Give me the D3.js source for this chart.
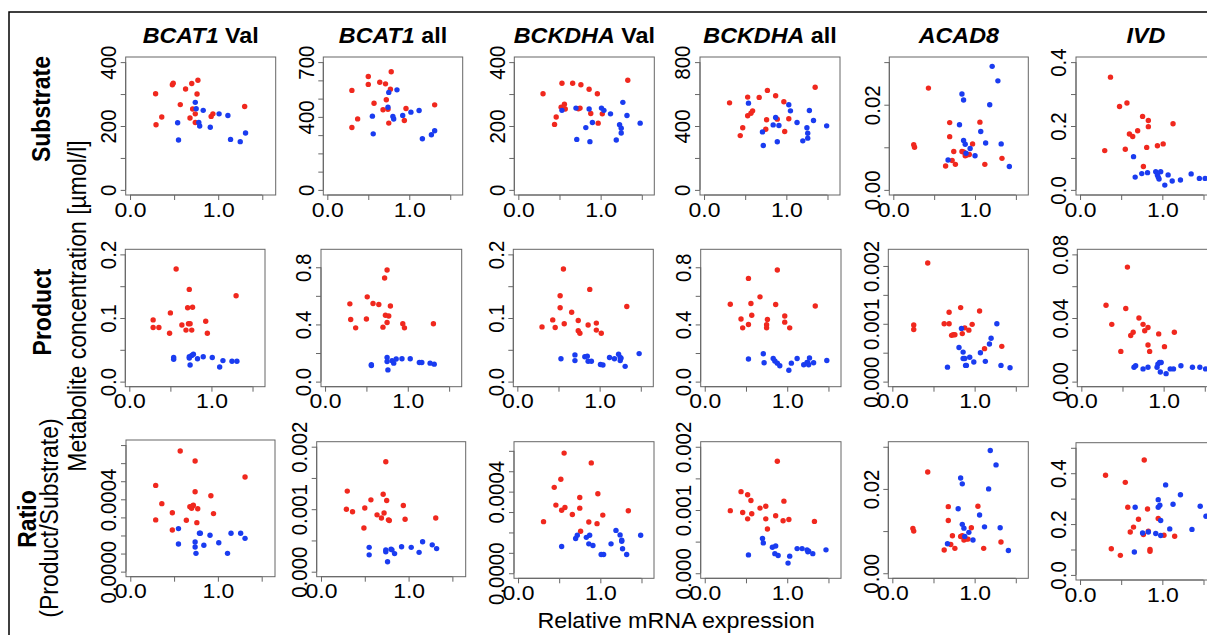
<!DOCTYPE html>
<html>
<head>
<meta charset="utf-8">
<script src="https://cdn.jsdelivr.net/npm/d3@7"></script>
<style>
  body { margin: 0; background: #fff; }
  svg { display: block; font-family: "Liberation Sans", Arial, Helvetica, sans-serif; }
</style>
</head>
<body>
<div class="container"></div>
<script>
const width = 1207;
const height = 635;

// column titles and row labels
const genes = ['BCAT1', 'BCAT1', 'BCKDHA', 'BCKDHA', 'ACAD8', 'IVD'];
const geneSuffix = [' Val', ' all', ' Val', ' all', '', ''];
const rowNames = ['Substrate', 'Product', 'Ratio'];

// x axis (relative mRNA expression)
const xTicks = [0, 0.5, 1, 1.5];
const xLabels = [0, 1];

// y axes, one entry per column
const substrateYMax = [400, 700, 400, 800, 0.03, 0.4];
const substrateYTicks = [[0, 100, 200, 300, 400], [0, 100, 200, 300, 400, 500, 600, 700], [0, 100, 200, 300, 400], [0, 200, 400, 600, 800], [0, 0.01, 0.02, 0.03], [0, 0.1, 0.2, 0.3, 0.4]];
const substrateYLabels = [[0, 200, 400], [0, 400, 700], [0, 200, 400], [0, 400, 800], [0, 0.02], [0, 0.2, 0.4]];
const substrateDigits = [0, 0, 0, 0, 2, 1];

const productYMax = [0.2, 0.89, 0.2, 0.89, 0.0022, 0.08];
const productYTicks = [[0, 0.05, 0.1, 0.15, 0.2], [0, 0.2, 0.4, 0.6, 0.8], [0, 0.05, 0.1, 0.15, 0.2], [0, 0.2, 0.4, 0.6, 0.8], [0, 0.0005, 0.001, 0.0015, 0.002], [0, 0.02, 0.04, 0.06, 0.08]];
const productYLabels = [[0, 0.1, 0.2], [0, 0.4, 0.8], [0, 0.1, 0.2], [0, 0.4, 0.8], [0, 0.001, 0.002], [0, 0.04, 0.08]];
const productDigits = [1, 1, 1, 1, 3, 2];

const ratioYMax = [0.0007, 0.002, 0.00062, 0.002, 0.03, 0.5];
const ratioYTicks = [[0, 0.0001, 0.0002, 0.0003, 0.0004, 0.0005, 0.0006, 0.0007], [0, 0.0005, 0.001, 0.0015, 0.002], [0, 0.0001, 0.0002, 0.0003, 0.0004, 0.0005, 0.0006], [0, 0.0005, 0.001, 0.0015, 0.002], [0, 0.01, 0.02, 0.03], [0, 0.1, 0.2, 0.3, 0.4, 0.5]];
const ratioYLabels = [[0, 0.0004], [0, 0.001, 0.002], [0, 0.0004], [0, 0.001, 0.002], [0, 0.02], [0, 0.2, 0.4]];
const ratioDigits = [4, 3, 4, 3, 2, 1];

// points [expression, concentration]
const bcat1ValSubRed = [[0.29,301],[0.295,204],[0.36,228],[0.48,329],[0.49,334],[0.57,267],[0.63,316],[0.70,333],[0.77,343],[0.76,300],[0.71,253],[0.74,238],[0.74,211],[0.68,225],[0.92,230],[0.94,238],[1.30,261]];
const bcat1ValSubBlue = [[0.74,274],[0.75,254],[0.83,249],[0.78,211],[0.79,200],[0.54,210],[0.55,156],[0.91,196],[1.01,238],[1.11,233],[1.14,158],[1.25,151],[1.31,178]];
const bcat1AllSubRed = [[0.30,545],[0.30,342],[0.37,389],[0.50,621],[0.50,578],[0.57,475],[0.64,590],[0.71,581],[0.78,647],[0.77,552],[0.72,494],[0.74,442],[0.75,366],[0.68,439],[0.94,380],[0.96,446],[1.31,466]];
const bcat1AllSubBlue = [[0.55,404],[0.56,307],[0.75,534],[0.74,453],[0.80,402],[0.81,388],[0.85,548],[0.92,408],[1.02,426],[1.12,435],[1.16,280],[1.27,302],[1.31,324]];
const bckdhaValSubRed = [[0.30,301],[0.44,205],[0.46,228],[0.52,259],[0.53,334],[0.56,268],[0.57,253],[0.66,334],[0.75,256],[0.73,254],[0.76,329],[0.86,315],[0.88,239],[0.96,301],[0.97,209],[1.02,238],[1.33,343]];
const bckdhaValSubBlue = [[0.53,249],[0.70,256],[0.71,158],[0.82,195],[0.86,253],[0.87,151],[0.90,211],[1.01,256],[1.04,249],[1.12,238],[1.19,156],[1.23,204],[1.25,193],[1.25,178],[1.27,274],[1.32,233],[1.48,209]];
const bckdhaAllSubRed = [[0.31,545],[0.44,340],[0.47,389],[0.53,581],[0.53,464],[0.57,480],[0.59,495],[0.67,579],[0.76,439],[0.75,380],[0.77,623],[0.87,589],[0.89,443],[0.97,552],[0.98,366],[1.03,445],[1.35,643]];
const bckdhaAllSubBlue = [[0.54,543],[0.71,363],[0.72,278],[0.84,407],[0.87,453],[0.89,301],[0.91,403],[1.03,533],[1.05,495],[1.13,422],[1.20,307],[1.25,389],[1.26,355],[1.26,324],[1.28,497],[1.33,434],[1.49,401]];
const acad8SubRed = [[0.25,0.0106],[0.26,0.0100],[0.43,0.0239],[0.64,0.0056],[0.69,0.0158],[0.69,0.0125],[0.72,0.0069],[0.74,0.0090],[0.76,0.0060],[0.84,0.0090],[0.86,0.0089],[0.88,0.0080],[0.90,0.0082],[0.93,0.0083],[0.97,0.0108],[1.06,0.0159],[1.12,0.0060],[1.33,0.0074]];
const acad8SubBlue = [[0.67,0.0070],[0.81,0.0153],[0.84,0.0225],[0.86,0.0211],[0.86,0.0116],[0.88,0.0107],[0.89,0.0086],[0.94,0.0097],[1.00,0.0080],[1.07,0.0137],[1.13,0.0110],[1.18,0.0200],[1.21,0.0290],[1.28,0.0256],[1.32,0.0108],[1.42,0.0055]];
const ivdSubRed = [[0.30,0.123],[0.37,0.353],[0.48,0.261],[0.55,0.127],[0.57,0.272],[0.60,0.175],[0.64,0.167],[0.70,0.185],[0.76,0.230],[0.77,0.073],[0.81,0.133],[0.83,0.217],[0.83,0.198],[0.94,0.138],[1.01,0.144],[1.13,0.207]];
const ivdSubBlue = [[0.65,0.104],[0.67,0.040],[0.75,0.051],[0.82,0.054],[0.92,0.057],[0.94,0.047],[0.95,0.040],[0.96,0.034],[0.98,0.057],[1.03,0.015],[1.07,0.047],[1.12,0.028],[1.22,0.031],[1.35,0.050],[1.45,0.036],[1.52,0.036]];

const bcat1ValProdRed = [[0.29,0.097],[0.29,0.085],[0.36,0.085],[0.49,0.076],[0.50,0.108],[0.57,0.177],[0.64,0.089],[0.69,0.081],[0.71,0.116],[0.72,0.091],[0.73,0.145],[0.74,0.091],[0.76,0.081],[0.77,0.117],[0.93,0.095],[0.95,0.076],[1.30,0.135]];
const bcat1ValProdBlue = [[0.54,0.035],[0.54,0.038],[0.73,0.039],[0.74,0.026],[0.76,0.041],[0.78,0.043],[0.83,0.036],[0.90,0.039],[1.01,0.038],[1.10,0.023],[1.14,0.033],[1.25,0.032],[1.31,0.032],[0.73,0.037]];
const bcat1AllProdRed = [[0.30,0.544],[0.31,0.435],[0.37,0.376],[0.50,0.438],[0.51,0.593],[0.58,0.546],[0.65,0.539],[0.70,0.381],[0.72,0.725],[0.73,0.464],[0.75,0.781],[0.75,0.414],[0.77,0.459],[0.79,0.529],[0.94,0.405],[0.96,0.376],[1.31,0.405]];
const bcat1AllProdBlue = [[0.56,0.113],[0.56,0.118],[0.75,0.169],[0.75,0.141],[0.76,0.082],[0.81,0.146],[0.86,0.158],[0.93,0.160],[1.03,0.160],[1.14,0.134],[1.17,0.134],[1.27,0.129],[1.32,0.122],[0.83,0.129]];
const bckdhaValProdRed = [[0.30,0.086],[0.43,0.097],[0.46,0.085],[0.52,0.135],[0.52,0.116],[0.56,0.177],[0.57,0.091],[0.66,0.109],[0.74,0.096],[0.74,0.080],[0.76,0.076],[0.86,0.089],[0.88,0.145],[0.96,0.092],[0.96,0.081],[1.02,0.076],[1.33,0.118]];
const bckdhaValProdBlue = [[0.53,0.036],[0.70,0.042],[0.70,0.033],[0.82,0.039],[0.85,0.040],[0.86,0.032],[0.90,0.032],[1.01,0.027],[1.04,0.026],[1.12,0.038],[1.18,0.036],[1.23,0.043],[1.25,0.033],[1.26,0.037],[1.31,0.024],[1.48,0.044],[1.25,0.038]];
const bckdhaAllProdRed = [[0.31,0.541],[0.44,0.438],[0.46,0.376],[0.53,0.722],[0.53,0.400],[0.56,0.546],[0.57,0.464],[0.67,0.593],[0.75,0.398],[0.75,0.376],[0.76,0.435],[0.86,0.539],[0.88,0.781],[0.97,0.459],[0.97,0.416],[1.03,0.376],[1.34,0.529]];
const bckdhaAllProdBlue = [[0.53,0.158],[0.71,0.195],[0.72,0.132],[0.83,0.162],[0.85,0.144],[0.88,0.129],[0.91,0.111],[1.02,0.080],[1.05,0.129],[1.12,0.162],[1.20,0.118],[1.24,0.134],[1.26,0.118],[1.27,0.165],[1.32,0.132],[1.48,0.148],[1.25,0.132]];
const acad8ProdRed = [[0.26,0.00098],[0.26,0.00090],[0.43,0.00205],[0.63,0.00100],[0.69,0.00120],[0.69,0.00100],[0.72,0.00080],[0.74,0.00081],[0.76,0.00081],[0.83,0.00128],[0.85,0.00083],[0.88,0.00093],[0.93,0.00089],[0.97,0.00099],[1.06,0.00122],[1.12,0.00057],[1.33,0.00061]];
const acad8ProdBlue = [[0.67,0.00025],[0.81,0.00059],[0.84,0.00092],[0.86,0.00051],[0.86,0.00040],[0.88,0.00040],[0.89,0.00028],[0.90,0.00028],[0.94,0.00042],[0.99,0.00034],[1.07,0.00050],[1.13,0.00035],[1.18,0.00065],[1.20,0.00075],[1.27,0.00100],[1.32,0.00028],[1.43,0.00024]];
const ivdProdRed = [[0.30,0.048],[0.37,0.036],[0.48,0.019],[0.54,0.046],[0.56,0.072],[0.60,0.029],[0.63,0.031],[0.70,0.040],[0.75,0.036],[0.77,0.032],[0.81,0.034],[0.81,0.023],[0.83,0.019],[0.94,0.030],[1.01,0.022],[1.13,0.031]];
const ivdProdBlue = [[0.64,0.009],[0.66,0.010],[0.75,0.008],[0.81,0.009],[0.92,0.009],[0.93,0.011],[0.95,0.012],[0.97,0.012],[0.96,0.006],[1.03,0.005],[1.08,0.008],[1.12,0.008],[1.21,0.010],[1.35,0.009],[1.44,0.009],[1.51,0.008]];

const bcat1ValRatioRed = [[0.29,0.000477],[0.29,0.000286],[0.36,0.000376],[0.48,0.000326],[0.48,0.000230],[0.57,0.000667],[0.64,0.000284],[0.68,0.000359],[0.70,0.000350],[0.71,0.000363],[0.72,0.000367],[0.74,0.000612],[0.74,0.000442],[0.76,0.000271],[0.77,0.000348],[0.92,0.000420],[0.95,0.000321],[1.31,0.000523]];
const bcat1ValRatioBlue = [[0.55,0.000238],[0.55,0.000153],[0.74,0.000164],[0.74,0.000136],[0.75,0.000101],[0.79,0.000212],[0.80,0.000212],[0.84,0.000146],[0.91,0.000201],[1.01,0.000160],[1.11,0.000101],[1.15,0.000212],[1.26,0.000212],[1.31,0.000184]];
const bcat1AllRatioRed = [[0.30,0.00129],[0.29,0.00100],[0.36,0.00096],[0.50,0.00102],[0.49,0.00070],[0.57,0.00115],[0.64,0.00091],[0.69,0.00086],[0.71,0.00124],[0.72,0.00094],[0.74,0.00176],[0.75,0.00114],[0.77,0.00083],[0.78,0.00082],[0.94,0.00106],[0.96,0.00084],[1.31,0.00086]];
const bcat1AllRatioBlue = [[0.55,0.00039],[0.55,0.00027],[0.74,0.00032],[0.74,0.00035],[0.76,0.00016],[0.80,0.00036],[0.81,0.00035],[0.84,0.00029],[0.92,0.00040],[1.03,0.00039],[1.12,0.00031],[1.16,0.00048],[1.27,0.00043],[1.32,0.00037]];
const bckdhaValRatioRed = [[0.31,0.000253],[0.44,0.000421],[0.46,0.000334],[0.52,0.000461],[0.53,0.000309],[0.56,0.000589],[0.57,0.000322],[0.66,0.000288],[0.75,0.000371],[0.75,0.000319],[0.76,0.000206],[0.86,0.000251],[0.89,0.000541],[0.97,0.000390],[0.96,0.000243],[1.03,0.000285],[1.34,0.000306]];
const bckdhaValRatioBlue = [[0.53,0.000131],[0.70,0.000170],[0.72,0.000186],[0.83,0.000176],[0.86,0.000144],[0.87,0.000186],[0.91,0.000136],[1.01,0.000092],[1.04,0.000092],[1.13,0.000144],[1.19,0.000210],[1.24,0.000188],[1.26,0.000162],[1.26,0.000157],[1.27,0.000120],[1.32,0.000092],[1.49,0.000186]];
const bckdhaAllRatioRed = [[0.31,0.00099],[0.44,0.00129],[0.46,0.00096],[0.52,0.00124],[0.52,0.00086],[0.56,0.00115],[0.57,0.00094],[0.67,0.00103],[0.74,0.00106],[0.74,0.00086],[0.76,0.00070],[0.86,0.00091],[0.88,0.00177],[0.96,0.00114],[0.95,0.00083],[1.02,0.00085],[1.33,0.00082]];
const bckdhaAllRatioBlue = [[0.53,0.00029],[0.70,0.00055],[0.71,0.00048],[0.82,0.00041],[0.86,0.00043],[0.85,0.00031],[0.89,0.00028],[1.01,0.00016],[1.03,0.00027],[1.12,0.00039],[1.18,0.00039],[1.24,0.00037],[1.25,0.00034],[1.26,0.00035],[1.31,0.00031],[1.47,0.00037]];
const acad8RatioRed = [[0.25,0.0106],[0.26,0.0100],[0.43,0.0240],[0.63,0.0055],[0.68,0.0158],[0.68,0.0125],[0.71,0.0068],[0.73,0.0089],[0.76,0.0059],[0.83,0.0087],[0.85,0.0089],[0.87,0.0079],[0.90,0.0081],[0.92,0.0081],[0.96,0.0108],[1.04,0.0159],[1.11,0.0059],[1.32,0.0074]];
const acad8RatioBlue = [[0.67,0.0070],[0.80,0.0153],[0.83,0.0226],[0.85,0.0212],[0.85,0.0116],[0.87,0.0107],[0.88,0.0087],[0.93,0.0097],[0.98,0.0079],[1.06,0.0138],[1.12,0.0110],[1.17,0.0200],[1.19,0.0291],[1.26,0.0257],[1.31,0.0108],[1.41,0.0054]];
const ivdRatioRed = [[0.31,0.392],[0.38,0.103],[0.49,0.077],[0.55,0.364],[0.58,0.266],[0.61,0.169],[0.65,0.188],[0.71,0.219],[0.77,0.159],[0.78,0.452],[0.82,0.259],[0.83,0.172],[0.85,0.100],[0.85,0.093],[0.95,0.222],[1.02,0.156],[1.15,0.152]];
const ivdRatioBlue = [[0.66,0.090],[0.67,0.266],[0.76,0.165],[0.83,0.169],[0.92,0.163],[0.95,0.266],[0.95,0.296],[0.97,0.274],[0.98,0.214],[0.98,0.155],[1.04,0.354],[1.09,0.181],[1.13,0.278],[1.22,0.315],[1.36,0.179],[1.46,0.270],[1.53,0.231]];

// panel boxes [left, top, width, height] per row
const boxes = [
    [[125.7, 57, 150, 138], [323.3, 57, 139.4, 138], [514.3, 57, 140, 138], [700, 57, 140, 138], [889.3, 57, 139, 138], [1076, 57, 140, 138]],
    [[125.3, 249.3, 139.7, 137.4], [321, 249.3, 140.7, 137.4], [513.3, 249.3, 140, 137.4], [700.7, 249.3, 140.3, 137.4], [888.3, 249.3, 140, 137.4], [1077.3, 249.3, 140, 137.4]],
    [[126, 440, 149, 136.7], [316.7, 441.7, 149, 135], [514, 441.7, 140, 136.6], [700.7, 441.7, 140.3, 136.6], [888.3, 441.7, 140, 136.6], [1076, 442.7, 140, 137.3]]
];

const rowSeries = [
    [[bcat1ValSubRed, bcat1ValSubBlue], [bcat1AllSubRed, bcat1AllSubBlue], [bckdhaValSubRed, bckdhaValSubBlue], [bckdhaAllSubRed, bckdhaAllSubBlue], [acad8SubRed, acad8SubBlue], [ivdSubRed, ivdSubBlue]],
    [[bcat1ValProdRed, bcat1ValProdBlue], [bcat1AllProdRed, bcat1AllProdBlue], [bckdhaValProdRed, bckdhaValProdBlue], [bckdhaAllProdRed, bckdhaAllProdBlue], [acad8ProdRed, acad8ProdBlue], [ivdProdRed, ivdProdBlue]],
    [[bcat1ValRatioRed, bcat1ValRatioBlue], [bcat1AllRatioRed, bcat1AllRatioBlue], [bckdhaValRatioRed, bckdhaValRatioBlue], [bckdhaAllRatioRed, bckdhaAllRatioBlue], [acad8RatioRed, acad8RatioBlue], [ivdRatioRed, ivdRatioBlue]]
];
const rowYMax = [substrateYMax, productYMax, ratioYMax];
const rowYTicks = [substrateYTicks, productYTicks, ratioYTicks];
const rowYLabels = [substrateYLabels, productYLabels, ratioYLabels];
const rowDigits = [substrateDigits, productDigits, ratioDigits];

const red = '#f0281e';
const blue = '#1a3cf0';
const lineColor = '#666';
// the source figure is slightly stretched horizontally
const stretch = 1.12;

const svg = d3.select('.container')
    .append('svg')
    .attr('width', width)
    .attr('height', height);

svg.append('rect')
    .attr('width', width).attr('height', height)
    .attr('fill', '#fff');

// outer frame (runs past the right and bottom edges)
svg.append('rect')
    .attr('x', 9).attr('y', 12)
    .attr('width', 1300).attr('height', 700)
    .attr('fill', 'none')
    .attr('stroke', '#000')
    .attr('stroke-width', 1.5);

for (let r = 0; r < 3; r++) {
    for (let c = 0; c < 6; c++) {
        drawPanel(r, c);
    }
}

function drawPanel(r, c) {
    let [bx, by, bw, bh] = boxes[r][c];
    let yMax = rowYMax[r][c];
    let digits = rowDigits[r][c];
    let labels = rowYLabels[r][c];

    let x = d3.scaleLinear().domain([-0.049, 1.652]).range([bx, bx + bw]);
    let y = d3.scaleLinear().domain([-0.04 * yMax, 1.04 * yMax]).range([by + bh, by]);

    let g = svg.append('g');

    g.append('rect')
        .attr('x', bx).attr('y', by)
        .attr('width', bw).attr('height', bh)
        .attr('fill', 'none')
        .attr('stroke', lineColor)
        .attr('stroke-width', 1);

    // x axis, line only between first and last tick like R
    let xAxis = g.append('g')
        .attr('transform', 'translate(0,' + (by + bh) + ')')
        .call(d3.axisBottom(x)
            .tickValues(xTicks)
            .tickSize(5)
            .tickPadding(2)
            .tickFormat(d => xLabels.includes(d) ? d.toFixed(1) : ''));
    xAxis.select('.domain').attr('d', 'M' + x(xTicks[0]) + ',0H' + x(xTicks[xTicks.length - 1]));
    xAxis.selectAll('text').attr('transform', 'scale(' + stretch + ',1)');
    styleAxis(xAxis);

    let yAxis = g.append('g')
        .attr('transform', 'translate(' + bx + ',0)')
        .call(d3.axisLeft(y)
            .tickValues(rowYTicks[r][c])
            .tickSize(5)
            .tickFormat(d => labels.some(v => Math.abs(v - d) < 1e-12) ? d.toFixed(digits) : ''));
    let yt = rowYTicks[r][c];
    yAxis.select('.domain').attr('d', 'M0,' + y(yt[0]) + 'V' + y(yt[yt.length - 1]));
    yAxis.selectAll('text')
        .attr('transform', 'scale(' + stretch + ',1) rotate(-90)')
        .attr('x', 0)
        .attr('y', -8.5)
        .attr('dy', 0)
        .attr('text-anchor', 'middle');
    styleAxis(yAxis);

    let [redPts, bluePts] = rowSeries[r][c];
    g.selectAll('circle.red')
        .data(redPts)
        .enter()
        .append('circle')
        .attr('class', 'red')
        .attr('cx', d => x(d[0]))
        .attr('cy', d => y(d[1]))
        .attr('r', 2.7)
        .attr('fill', red);
    g.selectAll('circle.blue')
        .data(bluePts)
        .enter()
        .append('circle')
        .attr('class', 'blue')
        .attr('cx', d => x(d[0]))
        .attr('cy', d => y(d[1]))
        .attr('r', 2.7)
        .attr('fill', blue);
}

function styleAxis(a) {
    a.select('.domain').attr('stroke', lineColor);
    a.selectAll('.tick line').attr('stroke', lineColor);
    a.selectAll('text')
        .attr('fill', '#000')
        .style('font-size', '20.5px')
        .style('font-family', '"Liberation Sans", Arial, sans-serif');
}

// column titles
for (let c = 0; c < 6; c++) {
    let [bx, , bw] = boxes[0][c];
    let t = svg.append('text')
        .attr('transform', 'translate(' + (bx + bw / 2) + ',43) scale(1.06,1)')
        .attr('text-anchor', 'middle')
        .style('font-size', '22px')
        .style('font-weight', 'bold');
    t.append('tspan').style('font-style', 'italic').text(genes[c]);
    if (geneSuffix[c]) t.append('tspan').text(geneSuffix[c]);
}

// row labels
const rowLabelPos = [[50, 109], [51, 312], [36, 519]];
rowNames.forEach((name, i) => {
    svg.append('text')
        .attr('transform', 'translate(' + rowLabelPos[i][0] + ',' + rowLabelPos[i][1] + ') scale(' + stretch + ',1) rotate(-90)')
        .attr('text-anchor', 'middle')
        .style('font-size', '23px')
        .style('font-weight', 'bold')
        .text(name);
});

svg.append('text')
    .attr('transform', 'translate(58,518) scale(' + stretch + ',1) rotate(-90)')
    .attr('text-anchor', 'middle')
    .style('font-size', '23px')
    .text('(Product/Substrate)');

svg.append('text')
    .attr('transform', 'translate(86,306) scale(' + stretch + ',1) rotate(-90)')
    .attr('text-anchor', 'middle')
    .style('font-size', '23px')
    .text('Metabolite concentration [µmol/l]');

svg.append('text')
    .attr('transform', 'translate(676,628) scale(1.06,1)')
    .attr('text-anchor', 'middle')
    .style('font-size', '22px')
    .text('Relative mRNA expression');
</script>
</body>
</html>
